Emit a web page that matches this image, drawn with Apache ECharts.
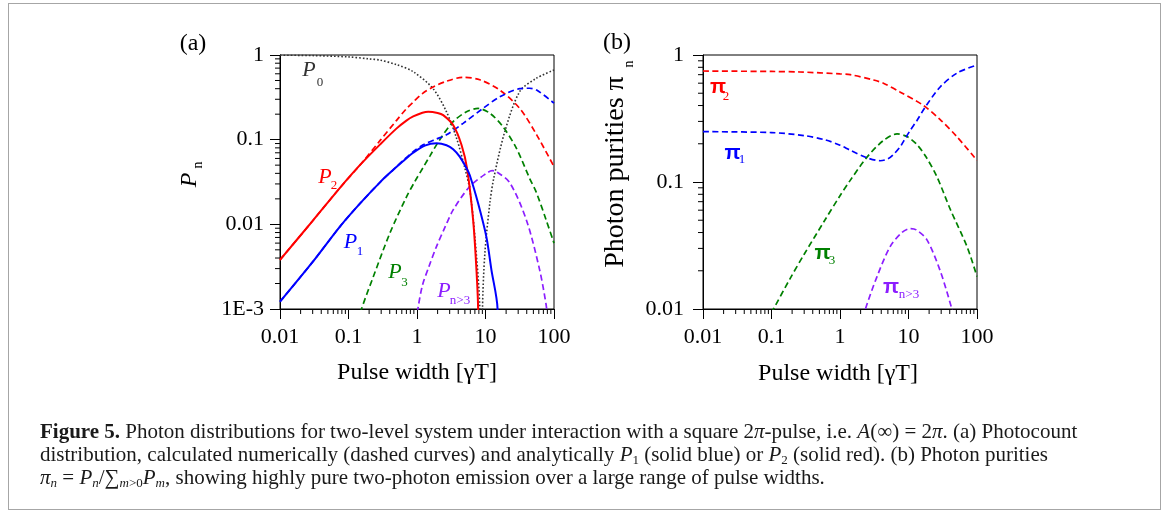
<!DOCTYPE html>
<html>
<head>
<meta charset="utf-8">
<title>Figure 5 - photon distributions</title>
<script src="https://cdn.jsdelivr.net/npm/echarts@6/dist/echarts.min.js"></script>
<style>
html, body { margin: 0; padding: 0; background: #fff; }
#wrap { position: relative; width: 1168px; height: 511px; }
#main { position: absolute; left: 0; top: 0; width: 1168px; height: 511px; }
#frame { position: absolute; left: 8px; top: 3px; width: 1151px; height: 505px; border: 1px solid #a6a6a6; pointer-events: none; }
#caption { position: absolute; left: 40px; top: 420px; font-family: 'Liberation Serif', serif; font-size: 21px; line-height: 23px; color: #1a1a1a; white-space: nowrap; }
#caption sub { font-size: 13px; line-height: 0; vertical-align: -3px; }
</style>
</head>
<body>
<div id="wrap">
    <div id="main"></div>
    <div id="frame"></div>
    <div id="caption">
        <div><b>Figure 5.</b> Photon distributions for two-level system under interaction with a square 2<i>π</i>-pulse, i.e. <i>A</i>(∞) = 2<i>π</i>. (a) Photocount</div>
        <div>distribution, calculated numerically (dashed curves) and analytically <i>P</i><sub>1</sub> (solid blue) or <i>P</i><sub>2</sub> (solid red). (b) Photon purities</div>
        <div><i>π<sub>n</sub></i> = <i>P<sub>n</sub></i>/∑<sub><i>m</i>&gt;0</sub><i>P<sub>m</sub></i>, showing highly pure two-photon emission over a large range of pulse widths.</div>
    </div>
</div>
<script>
// (a) photocount distribution, points are [pulse width, P]
var p0 = [[0.01, 0.995], [0.03, 0.985], [0.1, 0.95], [0.2, 0.9], [0.29, 0.87], [0.5, 0.77], [0.88, 0.635],
    [1.72, 0.4], [2.69, 0.214], [3.78, 0.104], [5.0, 0.046], [5.9, 0.0255], [7.0, 0.0071], [8.26, 0.001],
    [8.65, 0.00001], [9.04, 0.001], [9.8, 0.0046], [11.6, 0.018], [13.2, 0.035], [19.1, 0.124],
    [31.6, 0.37], [55, 0.53], [100, 0.665]];
var p1Num = [[0.01, 0.00122], [0.03, 0.0036], [0.075, 0.0094], [0.15, 0.0179], [0.3, 0.0324], [0.45, 0.044],
    [0.63, 0.057], [0.88, 0.072], [1.23, 0.087], [1.93, 0.102], [2.69, 0.114], [4.71, 0.156], [9.2, 0.234],
    [16.1, 0.32], [31.6, 0.4], [44, 0.405], [55.8, 0.386], [100, 0.27]];
var p2Num = [[0.01, 0.0038], [0.03, 0.011], [0.075, 0.027], [0.15, 0.051], [0.29, 0.098], [0.5, 0.168],
    [0.7, 0.232], [0.88, 0.278], [1.2, 0.35], [1.72, 0.42], [2.69, 0.49], [4.7, 0.545], [8.26, 0.51],
    [16.1, 0.386], [31.6, 0.234], [55.8, 0.114], [100, 0.048]];
var p3Num = [[0.14, 0.0007], [0.155, 0.001], [0.23, 0.0024], [0.4, 0.0078], [0.7, 0.021], [0.93, 0.032],
    [1.23, 0.047], [1.54, 0.064], [2.15, 0.1], [3.37, 0.163], [5.28, 0.214], [7.8, 0.234], [11.6, 0.205],
    [18, 0.142], [28.3, 0.079], [44, 0.035], [55, 0.024], [77, 0.0112], [100, 0.006]];
var pn3Num = [[0.98, 0.0007], [1.03, 0.001], [1.2, 0.0019], [1.5, 0.0032], [1.93, 0.0055], [2.6, 0.0095],
    [3.37, 0.0148], [5.9, 0.028], [10.3, 0.04], [12.5, 0.043], [14.3, 0.042], [22.6, 0.031], [39.6, 0.0112],
    [61.7, 0.0029], [77, 0.0011], [80, 0.0008]];
var p1Ana = [[0.01, 0.00122], [0.03, 0.0036], [0.075, 0.0094], [0.15, 0.0179], [0.3, 0.0324], [0.45, 0.044],
    [0.63, 0.056], [0.88, 0.07], [1.3, 0.085], [1.93, 0.0906], [2.7, 0.086], [3.37, 0.077], [4.2, 0.063],
    [5.28, 0.046], [5.9, 0.038], [7.8, 0.0177], [10.3, 0.0071], [12.2, 0.0029], [15, 0.001], [15.6, 0.00001]];
var p2Ana = [[0.01, 0.0038], [0.03, 0.011], [0.075, 0.027], [0.15, 0.051], [0.29, 0.088], [0.5, 0.135],
    [0.7, 0.168], [0.88, 0.188], [1.2, 0.208], [1.46, 0.214], [2.0, 0.207], [2.41, 0.195], [3.37, 0.149],
    [4.47, 0.0865], [5.4, 0.045], [6.6, 0.0112], [7.38, 0.0029], [7.8, 0.001], [7.95, 0.00001]];

// (b) photon purities
var pi1 = [[0.01, 0.249], [0.1, 0.245], [0.3, 0.232], [0.6, 0.215], [1.0, 0.195], [1.41, 0.178], [2.48, 0.155],
    [3.87, 0.147], [5.0, 0.152], [6.06, 0.165], [7.6, 0.19], [8.5, 0.21], [10.6, 0.255], [13.3, 0.305],
    [17.6, 0.39], [29, 0.56], [51, 0.72], [100, 0.835]];
var pi2 = [[0.01, 0.748], [0.1, 0.742], [0.26, 0.735], [1.0, 0.71], [1.41, 0.7], [3.1, 0.635], [4.3, 0.6],
    [7.6, 0.51], [16.6, 0.4], [29, 0.31], [51, 0.227], [100, 0.148]];
var pi3 = [[0.1, 0.0093], [0.107, 0.01], [0.185, 0.0172], [0.3, 0.027], [0.6, 0.05], [1.0, 0.078],
    [1.41, 0.103], [2.48, 0.157], [4.3, 0.212], [6.8, 0.239], [9.5, 0.228], [13.3, 0.197], [18, 0.158],
    [26, 0.11], [40.7, 0.061], [71.5, 0.031], [100, 0.018]];
var pin3 = [[2.2, 0.0085], [2.35, 0.01], [3.47, 0.018], [5.4, 0.031], [8, 0.04], [10.6, 0.043], [13, 0.042],
    [18.6, 0.035], [29, 0.02], [43, 0.01], [46, 0.0085]];

// tick labels
var xTicks = [0.01, 0.1, 1, 10, 100];
var xTickLabels = ['0.01', '0.1', '1', '10', '100'];
var yTicksA = [0.001, 0.01, 0.1, 1];
var yTickLabelsA = ['1E-3', '0.01', '0.1', '1'];
var yTicksB = [0.01, 0.1, 1];
var yTickLabelsB = ['0.01', '0.1', '1'];

var SERIF = '"Liberation Serif", "DejaVu Serif", serif';
var RED = '#ff0000', BLUE = '#0000ff', GREEN = '#008000', PURPLE = '#8c1eff', GRAY = '#333333';

function labelFor(ticks, labels) {
    return function (v) {
        for (var i = 0; i < ticks.length; i++) {
            if (Math.abs(Math.log10(v) - Math.log10(ticks[i])) < 1e-6) return labels[i];
        }
        return '';
    };
}

// minor ticks at 2..9 of every decade between lo and hi
function minorTicks(lo, hi) {
    var out = [];
    for (var d = lo; d < hi; d *= 10) {
        for (var m = 2; m <= 9; m++) out.push(Number((m * d).toPrecision(3)));
    }
    return out;
}

function xAxisOf(gi) {
    return {
        type: 'log', logBase: 10, gridIndex: gi, min: 0.01, max: 100, splitNumber: 4,
        axisLine: { lineStyle: { color: '#000', width: 1 } },
        axisTick: { show: true, inside: false, length: 10, lineStyle: { color: '#000' } },
        axisLabel: { margin: 17, color: '#000', fontFamily: SERIF, fontSize: 22, formatter: labelFor(xTicks, xTickLabels) },
        splitLine: { show: false }
    };
}

function yAxisOf(gi, min, ticks, labels, margin) {
    return {
        type: 'log', logBase: 10, gridIndex: gi, min: min, max: 1, splitNumber: ticks.length - 1,
        axisLine: { lineStyle: { color: '#000', width: 1 } },
        axisTick: { show: true, inside: false, length: 10, lineStyle: { color: '#000' } },
        axisLabel: { margin: margin, color: '#000', fontFamily: SERIF, fontSize: 22, formatter: labelFor(ticks, labels) },
        splitLine: { show: false }
    };
}

function curve(data, color, dash, width, gi) {
    return {
        type: 'line', xAxisIndex: gi, yAxisIndex: gi, data: data, showSymbol: false, symbol: 'none',
        smooth: 0.3, silent: true,
        lineStyle: { color: color, width: width, type: dash, cap: 'butt' }
    };
}

// short ticks between the labelled ones, drawn outside the box
function tickSeries(gi, pts, dir) {
    return {
        type: 'custom', xAxisIndex: gi, yAxisIndex: gi, clip: false, silent: true, data: pts,
        renderItem: function (params, api) {
            var p = api.coord([api.value(0), api.value(1)]);
            var shape = dir === 'x'
                ? { x1: p[0], y1: p[1], x2: p[0], y2: p[1] + 5 }
                : { x1: p[0], y1: p[1], x2: p[0] - 5, y2: p[1] };
            return { type: 'line', shape: shape, style: { stroke: '#000', lineWidth: 1 } };
        }
    };
}

function txt(x, y, s, font, color, rot) {
    return {
        type: 'text', x: x, y: y, rotation: rot || 0, silent: true,
        style: { x: 0, y: 0, text: s, font: font, fill: color, align: 'center', verticalAlign: 'middle' }
    };
}

var xMinor = minorTicks(0.01, 100);
var minorA = xMinor.map(function (v) { return [v, 0.001]; });
var minorB = xMinor.map(function (v) { return [v, 0.01]; });
var yMinorA = minorTicks(0.001, 1).map(function (v) { return [0.01, v]; });
var yMinorB = minorTicks(0.01, 1).map(function (v) { return [0.01, v]; });

var DASH = [6, 3.5];
var DOT = [1.6, 2];
var IT = 'italic 22px ' + SERIF;
var SUB = '13px ' + SERIF;
var PI = 'bold 21px "Liberation Sans", sans-serif';

var myChart = echarts.init(document.getElementById('main'));

var option = {
    animation: false,
    backgroundColor: '#fff',
    grid: [
        { left: 280, top: 55, width: 274, height: 254, show: true, borderColor: '#000', borderWidth: 1, backgroundColor: 'transparent' },
        { left: 703, top: 55, width: 274, height: 254, show: true, borderColor: '#000', borderWidth: 1, backgroundColor: 'transparent' }
    ],
    xAxis: [xAxisOf(0), xAxisOf(1)],
    yAxis: [yAxisOf(0, 0.001, yTicksA, yTickLabelsA, 16), yAxisOf(1, 0.01, yTicksB, yTickLabelsB, 19)],
    series: [
        curve(p0, GRAY, DOT, 1.6, 0),
        curve(pn3Num, PURPLE, DASH, 1.7, 0),
        curve(p3Num, GREEN, DASH, 1.7, 0),
        curve(p2Num, RED, DASH, 1.7, 0),
        curve(p1Num, BLUE, DASH, 1.7, 0),
        curve(p2Ana, RED, 'solid', 2, 0),
        curve(p1Ana, BLUE, 'solid', 2, 0),
        curve(pi3, GREEN, DASH, 1.7, 1),
        curve(pin3, PURPLE, DASH, 1.7, 1),
        curve(pi2, RED, DASH, 1.7, 1),
        curve(pi1, BLUE, DASH, 1.7, 1),
        tickSeries(0, minorA, 'x'),
        tickSeries(0, yMinorA, 'y'),
        tickSeries(1, minorB, 'x'),
        tickSeries(1, yMinorB, 'y')
    ],
    graphic: [
        txt(193, 44, '(a)', '24px ' + SERIF, '#000'),
        txt(617, 43, '(b)', '24px ' + SERIF, '#000'),
        txt(417, 373, 'Pulse width [γT]', '24px ' + SERIF, '#000'),
        txt(838, 374, 'Pulse width [γT]', '24px ' + SERIF, '#000'),
        txt(190, 180, 'P', 'italic 24px ' + SERIF, '#000', Math.PI / 2),
        txt(198.5, 165, 'n', '14px ' + SERIF, '#000', Math.PI / 2),
        txt(616, 172, 'Photon purities π', '28px ' + SERIF, '#000', Math.PI / 2),
        txt(629, 64, 'n', '14px ' + SERIF, '#000', Math.PI / 2),

        txt(309, 70, 'P', IT, GRAY), txt(320, 82.5, '0', SUB, GRAY),
        txt(325, 177.5, 'P', IT, RED), txt(334, 185.5, '2', SUB, RED),
        txt(350.5, 242.5, 'P', IT, BLUE), txt(360, 252, '1', SUB, BLUE),
        txt(395, 272.5, 'P', IT, GREEN), txt(404.5, 282.5, '3', SUB, GREEN),
        txt(444, 291, 'P', IT, PURPLE), txt(460, 301, 'n>3', SUB, PURPLE),

        txt(718, 87, 'π', PI, RED), txt(726, 97, '2', SUB, RED),
        txt(732.5, 153, 'π', PI, BLUE), txt(742, 160, '1', SUB, BLUE),
        txt(822.5, 253, 'π', PI, GREEN), txt(832, 261, '3', SUB, GREEN),
        txt(891, 287.5, 'π', PI, PURPLE), txt(909, 295, 'n>3', SUB, PURPLE)
    ]
};

myChart.setOption(option);
</script>
</body>
</html>
